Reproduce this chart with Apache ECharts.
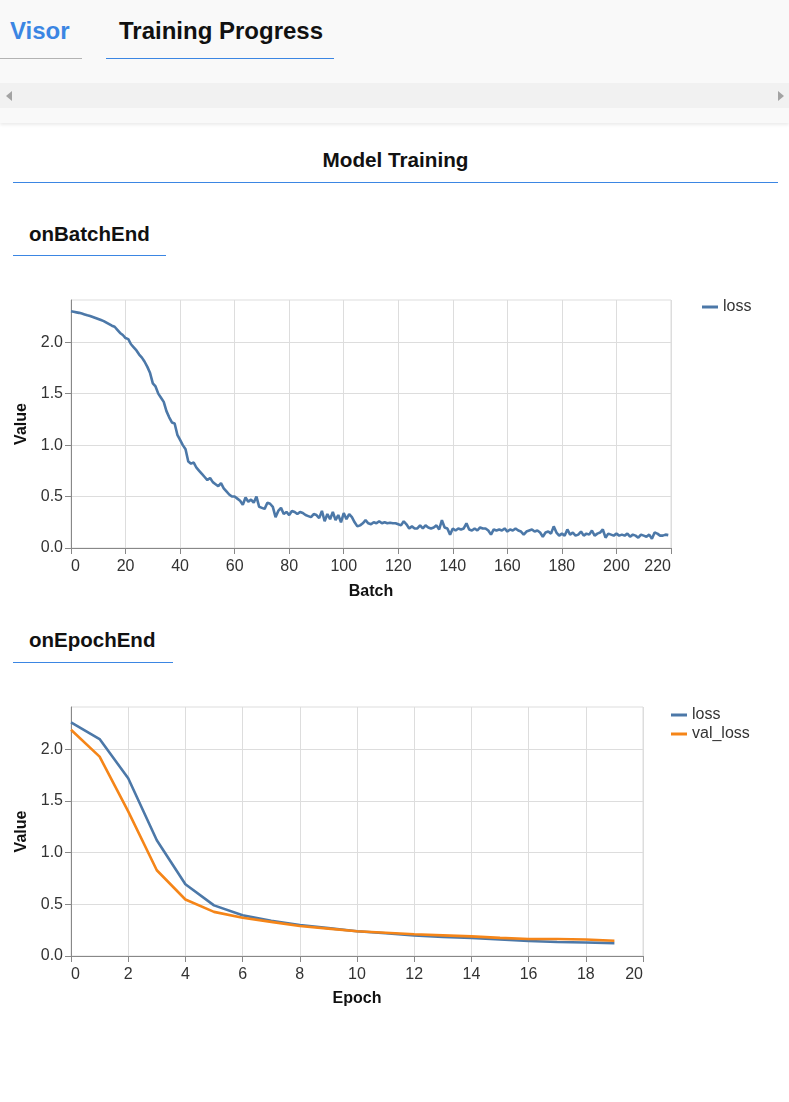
<!DOCTYPE html>
<html>
<head>
<meta charset="utf-8">
<script src="https://cdn.jsdelivr.net/npm/echarts@6/dist/echarts.min.js"></script>
<style>
  html, body { margin: 0; padding: 0; width: 789px; height: 1102px; overflow: hidden; background: #ffffff; font-family: 'Liberation Sans', Arial, sans-serif; }
  .abs { position: absolute; white-space: nowrap; }
  #top { position: absolute; left: 0; top: 0; width: 789px; height: 123px; background: #f9f9f9; box-shadow: 0 2px 3px rgba(0,0,0,0.08); }
  #scroll { position: absolute; left: 0; top: 83px; width: 789px; height: 25px; background: #f1f1f1; }
  #chart { position: absolute; left: 0; top: 0; width: 789px; height: 1102px; }
</style>
</head>
<body>
<div id="top"></div>
<div id="scroll"></div>
<div class="abs" style="left:6px;top:91px;width:0;height:0;border-top:5px solid transparent;border-bottom:5px solid transparent;border-right:6px solid #a3a3a3;"></div>
<div class="abs" style="left:778px;top:91px;width:0;height:0;border-top:5px solid transparent;border-bottom:5px solid transparent;border-left:6px solid #a3a3a3;"></div>
<div class="abs" style="left:10px;top:18px;font-size:24px;line-height:26px;font-weight:bold;color:#3b86e3;">Visor</div>
<div class="abs" style="left:119px;top:18px;font-size:24px;line-height:26px;font-weight:bold;color:#111;">Training Progress</div>
<div class="abs" style="left:0;top:58px;width:82px;height:1px;background:#b3b3b3;"></div>
<div class="abs" style="left:106px;top:58px;width:228px;height:1px;background:#3b86e3;"></div>

<div class="abs" style="left:0;top:149px;width:791px;text-align:center;font-size:20.7px;line-height:22px;font-weight:bold;color:#111;">Model Training</div>
<div class="abs" style="left:13px;top:182px;width:765px;height:1px;background:#3b86e3;"></div>
<div class="abs" style="left:29px;top:223px;font-size:20.5px;line-height:22px;font-weight:bold;color:#111;">onBatchEnd</div>
<div class="abs" style="left:13px;top:255px;width:153px;height:1px;background:#3b86e3;"></div>
<div class="abs" style="left:29px;top:629px;font-size:20.5px;line-height:22px;font-weight:bold;color:#111;">onEpochEnd</div>
<div class="abs" style="left:13px;top:662px;width:160px;height:1px;background:#3b86e3;"></div>

<div id="chart"></div>
<script>
// ---- data ----
const batchLoss = [
  2.30, 2.295, 2.29, 2.285, 2.278, 2.27, 2.262, 2.255, 2.245, 2.235,
  2.225, 2.215, 2.205, 2.19, 2.175, 2.16, 2.15, 2.12, 2.09, 2.07,
  2.04, 2.03, 1.98, 1.95, 1.92, 1.88, 1.85, 1.81, 1.76, 1.70,
  1.60, 1.57, 1.50, 1.46, 1.42, 1.33, 1.27, 1.22, 1.21, 1.10,
  1.05, 1.00, 0.96, 0.84, 0.82, 0.83, 0.78, 0.75, 0.72, 0.69,
  0.66, 0.68, 0.64, 0.62, 0.60, 0.63, 0.58, 0.55, 0.52, 0.50,
  0.50, 0.48, 0.46, 0.42, 0.49, 0.45, 0.47, 0.44, 0.50, 0.40,
  0.39, 0.38, 0.44, 0.43, 0.40, 0.30, 0.36, 0.39, 0.33, 0.35,
  0.32, 0.36, 0.35, 0.33, 0.35, 0.34, 0.32, 0.31, 0.30, 0.33,
  0.32, 0.29, 0.36, 0.26, 0.33, 0.28, 0.35, 0.27, 0.32, 0.25,
  0.34, 0.28, 0.33, 0.30, 0.25, 0.21, 0.22, 0.24, 0.27, 0.24,
  0.23, 0.25, 0.24, 0.26, 0.24, 0.25, 0.24, 0.245, 0.24, 0.24,
  0.23, 0.22, 0.26, 0.23, 0.19, 0.21, 0.19, 0.19, 0.22, 0.19,
  0.22, 0.20, 0.19, 0.20, 0.22, 0.18, 0.27, 0.20, 0.19, 0.13,
  0.19, 0.17, 0.19, 0.18, 0.19, 0.24, 0.18, 0.17, 0.19, 0.17,
  0.20, 0.19, 0.19, 0.17, 0.13, 0.18, 0.17, 0.18, 0.17, 0.19,
  0.16, 0.18, 0.17, 0.19, 0.17, 0.16, 0.13, 0.16, 0.17, 0.18,
  0.16, 0.17, 0.15, 0.11, 0.15, 0.16, 0.14, 0.21, 0.15, 0.12,
  0.14, 0.12, 0.18, 0.13, 0.15, 0.12, 0.13, 0.16, 0.12, 0.14,
  0.13, 0.17, 0.12, 0.14, 0.15, 0.18, 0.10, 0.14, 0.13, 0.12,
  0.14, 0.12, 0.13, 0.12, 0.14, 0.11, 0.13, 0.12, 0.10, 0.13,
  0.12, 0.11, 0.13, 0.09, 0.15, 0.14, 0.12, 0.12, 0.13, 0.125
];
const epochLoss = [2.26, 2.10, 1.72, 1.12, 0.695, 0.49, 0.395, 0.34, 0.30, 0.27,
                   0.24, 0.22, 0.20, 0.185, 0.175, 0.16, 0.145, 0.135, 0.13, 0.125];
const epochValLoss = [2.19, 1.93, 1.40, 0.83, 0.547, 0.427, 0.37, 0.33, 0.29, 0.265,
                      0.24, 0.225, 0.21, 0.20, 0.19, 0.175, 0.165, 0.165, 0.16, 0.147];
const yTickValues = [0, 0.5, 1.0, 1.5, 2.0];
const seriesNames = ['loss', 'val_loss'];
const axisTitles = { batchX: 'Batch', epochX: 'Epoch', y: 'Value' };

// ---- chart ----
const FONT = "'Liberation Sans', Arial, sans-serif";
const BLUE = '#4c78a8', ORANGE = '#f58518';
const chart = echarts.init(document.getElementById('chart'), null, { renderer: 'canvas' });

function xAxis(gridIndex, max, interval, name, gap) {
  return {
    type: 'value', gridIndex, min: 0, max, interval,
    name, nameLocation: 'middle', nameGap: gap,
    nameTextStyle: { fontFamily: FONT, fontSize: 16, fontWeight: 'bold', color: '#111' },
    axisLine: { show: true, lineStyle: { color: '#888', width: 1 } },
    axisTick: { show: true, length: 6, lineStyle: { color: '#888' } },
    axisLabel: { margin: 11, fontFamily: FONT, fontSize: 16, color: '#333',
                 alignMinLabel: 'left', alignMaxLabel: 'right' },
    splitLine: { show: true, lineStyle: { color: '#ddd', width: 1 } }
  };
}
function yAxis(gridIndex, name) {
  return {
    type: 'value', gridIndex, min: 0, max: 2.41,
    name, nameLocation: 'middle', nameGap: 39, nameRotate: 90,
    nameTextStyle: { fontFamily: FONT, fontSize: 16, fontWeight: 'bold', color: '#111' },
    axisLine: { show: true, lineStyle: { color: '#888', width: 1 } },
    axisTick: { show: true, length: 6, lineStyle: { color: '#888' }, customValues: yTickValues },
    axisLabel: {
      margin: 8, fontFamily: FONT, fontSize: 16, color: '#333',
      customValues: yTickValues,
      formatter: v => Number(v).toFixed(1)
    },
    splitLine: { show: true, lineStyle: { color: '#ddd', width: 1 } }
  };
}

chart.setOption({
  animation: false,
  backgroundColor: 'transparent',
  grid: [
    { left: 71, top: 300, width: 600, height: 248, show: true, borderColor: '#ddd', borderWidth: 1, containLabel: false },
    { left: 71, top: 707, width: 572, height: 249, show: true, borderColor: '#ddd', borderWidth: 1, containLabel: false }
  ],
  xAxis: [xAxis(0, 220, 20, axisTitles.batchX, 36), xAxis(1, 20, 2, axisTitles.epochX, 35)],
  yAxis: [yAxis(0, axisTitles.y), yAxis(1, axisTitles.y)],
  legend: [
    { orient: 'vertical', left: 702, top: 299, padding: 0, itemWidth: 16, itemHeight: 3, itemGap: 3, icon: 'rect',
      textStyle: { fontFamily: FONT, fontSize: 16, color: '#333' }, data: [seriesNames[0]] },
    { orient: 'vertical', left: 671, top: 707, padding: 0, itemWidth: 16, itemHeight: 3, itemGap: 3, icon: 'rect',
      textStyle: { fontFamily: FONT, fontSize: 16, color: '#333' }, data: seriesNames }
  ],
  series: [
    { name: seriesNames[0], type: 'line', xAxisIndex: 0, yAxisIndex: 0, showSymbol: false, symbol: 'none',
      color: BLUE, lineStyle: { color: BLUE, width: 2.6 },
      data: batchLoss.map((v, i) => [i, v]) },
    { name: seriesNames[0], type: 'line', xAxisIndex: 1, yAxisIndex: 1, showSymbol: false, symbol: 'none',
      color: BLUE, lineStyle: { color: BLUE, width: 2.6 },
      data: epochLoss.map((v, i) => [i, v]) },
    { name: seriesNames[1], type: 'line', xAxisIndex: 1, yAxisIndex: 1, showSymbol: false, symbol: 'none',
      color: ORANGE, lineStyle: { color: ORANGE, width: 2.6 },
      data: epochValLoss.map((v, i) => [i, v]) }
  ]
});
</script>
</body>
</html>
